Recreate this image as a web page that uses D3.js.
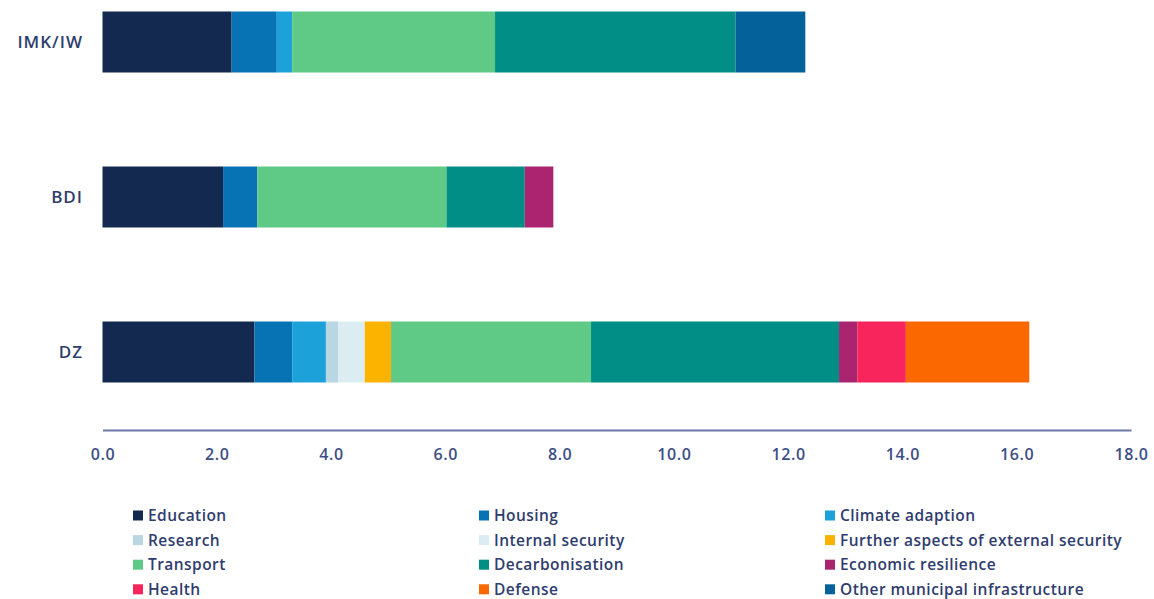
<!DOCTYPE html>
<html>
<head>
<meta charset="utf-8">
<script src="https://cdn.jsdelivr.net/npm/d3@7"></script>
<style>
  html, body { margin: 0; padding: 0; background: #ffffff; }
  svg text { font-family: "Open Sans", sans-serif; }
</style>
</head>
<body>
<svg id="chart" width="1154" height="599"></svg>
<script>
// ---- data ----
const categories = [
  "Education", "Housing", "Climate adaption",
  "Research", "Internal security", "Further aspects of external security",
  "Transport", "Decarbonisation", "Economic resilience",
  "Health", "Defense", "Other municipal infrastructure"
];
const colors = [
  "#13294f", "#0873b4", "#1ca1d8",
  "#b8d7e3", "#dcedf2", "#fbb300",
  "#5fca86", "#008e87", "#ab2470",
  "#f8245c", "#fb6700", "#05619a"
];
const sources = ["IMK/IW", "BDI", "DZ"];
const imkIwValues = [2.26, 0.79, 0.27, 0, 0, 0, 3.55, 4.21, 0, 0, 0, 1.22];
const bdiValues   = [2.11, 0.60, 0, 0, 0, 0, 3.31, 1.37, 0.50, 0, 0, 0];
const dzValues    = [2.66, 0.66, 0.59, 0.22, 0.46, 0.46, 3.50, 4.34, 0.32, 0.85, 2.16, 0];
const xTicks = [0, 2, 4, 6, 8, 10, 12, 14, 16, 18];

// table for d3.stack
const rows = [imkIwValues, bdiValues, dzValues].map((vals, i) => {
  const r = { source: sources[i] };
  categories.forEach((c, j) => (r[c] = vals[j]));
  return r;
});

const svg = d3.select("#chart");
const textColor = "#2f3d6e";
const axisColor = "#6d76a8";

const x = d3.scaleLinear().domain([0, 18]).range([102.5, 1131]);
const y = d3.scalePoint().domain(sources).range([42, 352]);
const barH = 61;
const color = d3.scaleOrdinal().domain(categories).range(colors);

const stacked = d3.stack().keys(categories)(rows);

// ---- bars ----
svg.append("g")
  .selectAll("g")
  .data(stacked)
  .join("g")
  .attr("fill", (d) => color(d.key))
  .selectAll("rect")
  .data((d) => d.filter((s) => s[1] - s[0] > 0))
  .join("rect")
  .attr("x", (d) => x(d[0]))
  .attr("y", (d) => y(d.data.source) - barH / 2)
  .attr("width", (d) => x(d[1]) - x(d[0]))
  .attr("height", barH);

// ---- category labels ----
svg.append("g")
  .selectAll("text")
  .data(sources)
  .join("text")
  .attr("x", 83)
  .attr("y", (d) => y(d))
  .attr("dy", "0.35em")
  .attr("text-anchor", "end")
  .attr("fill", textColor)
  .attr("font-size", 17)
  .attr("font-weight", 600)
  .attr("letter-spacing", 1)
  .text((d) => d);

// ---- x axis ----
svg.append("g")
  .attr("transform", "translate(0,430)")
  .call(
    d3.axisBottom(x)
      .tickValues(xTicks)
      .tickFormat(d3.format(".1f"))
      .tickSize(0)
      .tickPadding(19)
  )
  .call((g) => g.select(".domain").attr("stroke", axisColor).attr("stroke-width", 2))
  .call((g) =>
    g.selectAll("text")
      .attr("fill", "#3d4e86")
      .attr("font-size", 16)
      .attr("font-weight", 600)
      .attr("letter-spacing", 0.6)
      .style("font-family", "'Open Sans', sans-serif")
  );

// ---- legend ----
const colX = [133, 479, 825];
const legend = svg.append("g")
  .selectAll("g")
  .data(categories)
  .join("g")
  .attr("transform", (d, i) =>
    `translate(${colX[i % 3]},${515.5 + Math.floor(i / 3) * 24.6})`);

legend.append("rect")
  .attr("x", 0)
  .attr("y", -5)
  .attr("width", 10)
  .attr("height", 10)
  .attr("fill", (d) => color(d));

legend.append("text")
  .attr("x", 15)
  .attr("dy", "0.35em")
  .attr("fill", textColor)
  .attr("font-size", 15.5)
  .attr("font-weight", 600)
  .attr("letter-spacing", 0.45)
  .text((d) => d);
</script>
</body>
</html>
